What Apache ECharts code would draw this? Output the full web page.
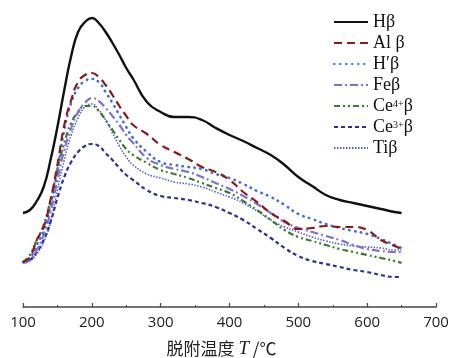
<!DOCTYPE html>
<html><head><meta charset="utf-8">
<script src="https://cdn.jsdelivr.net/npm/echarts@6/dist/echarts.min.js"></script>
<style>html,body{margin:0;padding:0;background:#fff}#c{width:456px;height:358px}</style>
</head><body><div id="c"></div>
<script>
const temps = [100,110,120,130,140,150,160,170,180,190,200,210,220,230,240,250,260,280,300,320,340,360,380,400,420,440,460,480,500,520,540,560,580,600,620,640,650];
const hBeta   = [94,97,106,120,147,180,217,251,275,285,289,284,275,264,252,239,228,205,195,190,190,187,179,172,166,159,152,142,130,121,112,107,104,101,98,95,94];
const alBeta  = [45,50,67,80,107,142,182,207,225,232,234,230,222,212,201,191,182,173,162,155,148,140,135,127,115,105,94,86,78,79,81,80,80,77,67,61,58];
const hpBeta  = [45,49,62,77,102,137,177,204,219,226,228,225,215,204,192,180,169,155,145,142,140,138,133,129,123,116,110,102,93,88,83,79,76,73,68,62,59];
const feBeta  = [44,47,57,72,95,127,157,179,195,204,209,206,199,191,182,172,164,149,142,138,135,130,124,118,111,103,94,85,79,75,71,67,62,58,56,55,55];
const ce4Beta = [45,52,67,82,107,137,164,184,195,201,201,196,187,177,167,158,152,144,137,133,129,124,119,114,106,97,87,77,70,66,62,58,55,52,49,46,44];
const ce3Beta = [45,47,55,67,85,109,130,145,155,161,163,161,154,147,139,132,127,117,111,109,107,104,100,94,87,78,69,59,51,46,43,40,37,35,32,30,30];
const tiBeta  = [44,46,53,65,85,117,147,172,189,200,203,197,187,174,161,150,142,133,129,125,123,120,115,110,104,96,87,80,75,70,66,63,61,60,59,57,57];
const seriesNames = ['Hβ','Al β','H′β','Feβ','Ce4+β','Ce3+β','Tiβ'];
const xTicks = [100,200,300,400,500,600,700];

const seriesData = [hBeta, alBeta, hpBeta, feBeta, ce4Beta, ce3Beta, tiBeta];
const styles = [
  {color:'#111111', width:2.4, type:'solid', cap:'butt'},
  {color:'#8b1a1a', width:2.2, type:[8,5], cap:'butt'},
  {color:'#3a6fd6', width:2.6, type:[0.5,5.5], cap:'round'},
  {color:'#8070d0', width:2.2, type:[8,3,2,3], cap:'butt'},
  {color:'#3c7a2a', width:2.2, type:[6,3,2,3,2,3], cap:'butt'},
  {color:'#2a2f9a', width:2.2, type:[4,3], cap:'butt'},
  {color:'#5060d8', width:1.6, type:[1.5,1.5], cap:'butt'}
];

const chart = echarts.init(document.getElementById('c'), null, {renderer:'canvas'});
const legendLabel = {
  'Hβ':'{a|Hβ}', 'Al β':'{a|Al β}', 'H′β':'{a|H′β}', 'Feβ':'{a|Feβ}',
  'Ce4+β':'{a|Ce}{s|4+}{a|β}', 'Ce3+β':'{a|Ce}{s|3+}{a|β}', 'Tiβ':'{a|Tiβ}'
};
chart.setOption({
  animation:false,
  backgroundColor:'#ffffff',
  grid:{left:23, right:20, top:10, bottom:51, containLabel:false, outerBoundsMode:'none'},
  legend:{
    orient:'vertical', left:328, top:8,
    itemWidth:34, itemHeight:14, itemGap:3,
    data:seriesNames,
    itemStyle:{opacity:0},
    formatter:n=>legendLabel[n],
    textStyle:{
      padding:[0,0,0,0], lineHeight:14,
      rich:{
        a:{fontFamily:'Liberation Serif', fontSize:18, lineHeight:14, color:'#111'},
        s:{fontFamily:'Liberation Serif', fontSize:10, lineHeight:14, color:'#111', verticalAlign:'top', padding:[0,0,6,0]}
      }
    }
  },
  xAxis:{
    type:'value', min:100, max:700, interval:100,
    axisLine:{lineStyle:{color:'#444', width:1.5}},
    axisTick:{inside:true, length:4, lineStyle:{color:'#444', width:1.2}},
    minorTick:{show:true, splitNumber:2, length:2, lineStyle:{color:'#444', width:1}},
    splitLine:{show:false},
    axisLabel:{fontFamily:'Open Sans', fontSize:15, color:'#222', margin:8,
      formatter:v=>xTicks.includes(v)?String(v):''},
    name:'{c|脱附温度 }{t|T}{c| /℃}', nameLocation:'middle', nameGap:32,
    nameTextStyle:{padding:[0,16,0,0], rich:{
      c:{fontFamily:'Noto Sans CJK SC', fontSize:17, color:'#222'},
      t:{fontFamily:'Liberation Serif', fontStyle:'italic', fontSize:19, color:'#222'}
    }}
  },
  yAxis:{type:'value', min:0, max:297, show:false, splitLine:{show:false}},
  series:seriesNames.map((n,i)=>({
    name:n, type:'line', smooth:true, symbol:'none',
    data:temps.map((t,j)=>[t, seriesData[i][j]]),
    lineStyle:{color:styles[i].color, width:styles[i].width, type:styles[i].type, cap:styles[i].cap},
    itemStyle:{color:styles[i].color},
    z: 10-i
  }))
});
</script></body></html>
